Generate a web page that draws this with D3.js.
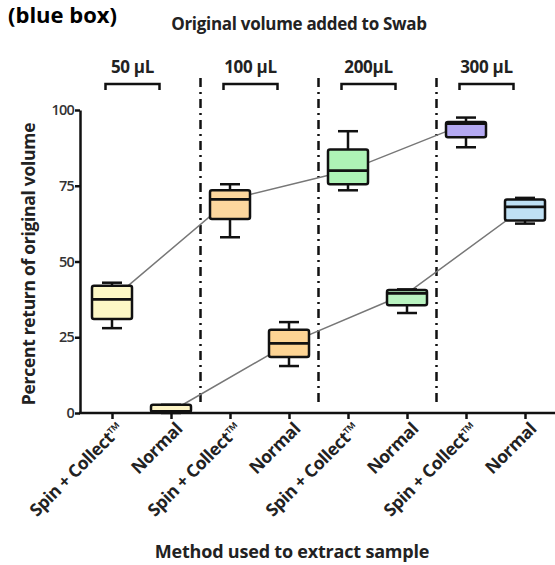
<!DOCTYPE html>
<html>
<head>
<meta charset="utf-8">
<script src="https://cdn.jsdelivr.net/npm/d3@7"></script>
<style>
  body { margin: 0; background: #fff; }
  svg { font-family: "Open Sans", sans-serif; }
</style>
</head>
<body>
<div id="chart"></div>
<script>
// categories along x, two methods per volume group
var methods = ["Spin + Collect™", "Normal", "Spin + Collect™", "Normal",
               "Spin + Collect™", "Normal", "Spin + Collect™", "Normal"];
var volumes = ["50 µL", "100 µL", "200µL", "300 µL"];

// box plot values (percent return)
var mins    = [28,   0,    58,   15.5, 73.5, 33,   87.7, 62.5];
var q1s     = [31,   0.3,  64,   18.5, 75.5, 35.6, 91,   63.5];
var medians = [37.5, 0.5,  70.5, 23,   80,   39.5, 95.5, 68];
var q3s     = [42,   2.7,  73.5, 27.5, 87,   40.6, 96,   70.5];
var maxs    = [43,   2.7,  75.5, 30,   93,   40.8, 97.5, 71];

var fills = ["#fdf8c6", "#fcf3c4", "#fdd79e", "#fdd494",
             "#aef3b6", "#b9f3c0", "#b4a9f2", "#bfe0f4"];

var yTicks = [0, 25, 50, 75, 100];

var width = 555, height = 565;

var svg = d3.select("#chart")
  .append("svg")
    .attr("width", width)
    .attr("height", height);

var x = d3.scalePoint()
  .domain(d3.range(methods.length))
  .range([112, 525]);

var y = d3.scaleLinear()
  .domain([0, 100])
  .range([413, 110]);

var boxW = 40;

// corner text
svg.append("text")
  .attr("x", 8).attr("y", 23)
  .attr("font-size", 22).attr("font-weight", 700)
  .text("(blue box)");

svg.append("text")
  .attr("x", 299).attr("y", 30)
  .attr("text-anchor", "middle")
  .attr("font-size", 17).attr("font-weight", 700)
  .attr("letter-spacing", -0.3)
  .attr("fill", "#222")
  .text("Original volume added to Swab");

// dash-dot separators between volume groups
var seps = d3.range(1, volumes.length);
svg.selectAll(".sep")
  .data(seps)
  .enter().append("line")
    .attr("class", "sep")
    .attr("x1", d => (x(2 * d - 1) + x(2 * d)) / 2)
    .attr("x2", d => (x(2 * d - 1) + x(2 * d)) / 2)
    .attr("y1", 78)
    .attr("y2", 403)
    .attr("stroke", "#111")
    .attr("stroke-width", 2.5)
    .attr("stroke-dasharray", "9,5,2,5");

// brackets with volume labels
var br = svg.selectAll(".bracket")
  .data(volumes)
  .enter().append("g")
    .attr("class", "bracket")
    .attr("transform", (d, i) => "translate(" + ((x(2 * i) + x(2 * i + 1)) / 2 - 9) + ",0)");

br.append("path")
  .attr("d", "M-27,90 V84 H27 V90")
  .attr("fill", "none")
  .attr("stroke", "#111")
  .attr("stroke-width", 2.5);

br.append("text")
  .attr("y", 73)
  .attr("text-anchor", "middle")
  .attr("font-size", 17)
  .attr("font-weight", 700)
  .attr("letter-spacing", -0.3)
  .attr("fill", "#222")
  .text(d => d);

// y axis
var yAxis = svg.append("g")
  .attr("transform", "translate(80,0)")
  .call(d3.axisLeft(y).tickValues(yTicks).tickSize(5).tickSizeOuter(0));
yAxis.select(".domain").attr("stroke-width", 2.5).attr("stroke", "#111");
yAxis.selectAll(".tick line").attr("stroke-width", 2.5).attr("stroke", "#111");
yAxis.selectAll(".tick text")
  .attr("font-size", 14.5).attr("font-weight", 600)
  .attr("font-family", "Open Sans").attr("fill", "#333")
  .attr("letter-spacing", -0.8).attr("x", -6);

svg.append("text")
  .attr("transform", "translate(35,264) rotate(-90)")
  .attr("text-anchor", "middle")
  .attr("font-size", 17.5).attr("font-weight", 700)
  .attr("letter-spacing", -0.3)
  .attr("fill", "#222")
  .text("Percent return of original volume");

// x axis
var xAxis = svg.append("g")
  .attr("transform", "translate(0,413)")
  .call(d3.axisBottom(x).tickSize(6).tickFormat(i => methods[i]));
xAxis.select(".domain").remove();
xAxis.append("line")
  .attr("x1", 79).attr("x2", width)
  .attr("stroke", "#111").attr("stroke-width", 2.5);
xAxis.selectAll(".tick line").attr("stroke-width", 2.5).attr("stroke", "#111");
xAxis.selectAll(".tick text")
  .attr("font-size", 17.5).attr("font-weight", 700)
  .attr("font-family", "Open Sans").attr("fill", "#222")
  .attr("letter-spacing", -0.4)
  .attr("text-anchor", "end")
  .attr("dy", null).attr("y", 0)
  .attr("transform", "translate(12,17) rotate(-45)");

svg.append("text")
  .attr("x", 292).attr("y", 558)
  .attr("text-anchor", "middle")
  .attr("font-size", 18).attr("font-weight", 700)
  .attr("letter-spacing", -0.2)
  .attr("fill", "#222")
  .text("Method used to extract sample");

// connecting lines through medians
var line = d3.line()
  .x(i => x(i))
  .y(i => y(medians[i]));

[[0, 2, 4, 6], [1, 3, 5, 7]].forEach(function (idx) {
  svg.append("path")
    .attr("d", line(idx))
    .attr("fill", "none")
    .attr("stroke", "#777")
    .attr("stroke-width", 1.5);
});

// boxes
var box = svg.selectAll(".box")
  .data(d3.range(methods.length))
  .enter().append("g")
    .attr("class", "box");

box.append("line")
  .attr("x1", i => x(i)).attr("x2", i => x(i))
  .attr("y1", i => y(maxs[i])).attr("y2", i => y(mins[i]))
  .attr("stroke", "#111").attr("stroke-width", 2.5);

box.append("line")
  .attr("x1", i => x(i) - boxW / 4).attr("x2", i => x(i) + boxW / 4)
  .attr("y1", i => y(maxs[i])).attr("y2", i => y(maxs[i]))
  .attr("stroke", "#111").attr("stroke-width", 2.5);

box.append("line")
  .attr("x1", i => x(i) - boxW / 4).attr("x2", i => x(i) + boxW / 4)
  .attr("y1", i => y(mins[i])).attr("y2", i => y(mins[i]))
  .attr("stroke", "#111").attr("stroke-width", 2.5);

box.append("rect")
  .attr("x", i => x(i) - boxW / 2)
  .attr("width", boxW)
  .attr("y", i => y(q3s[i]))
  .attr("height", i => y(q1s[i]) - y(q3s[i]))
  .attr("rx", 2)
  .attr("fill", i => fills[i])
  .attr("stroke", "#111")
  .attr("stroke-width", 2.5);

box.append("line")
  .attr("x1", i => x(i) - boxW / 2).attr("x2", i => x(i) + boxW / 2)
  .attr("y1", i => y(medians[i])).attr("y2", i => y(medians[i]))
  .attr("stroke", "#111").attr("stroke-width", 2.8);
</script>
</body>
</html>
